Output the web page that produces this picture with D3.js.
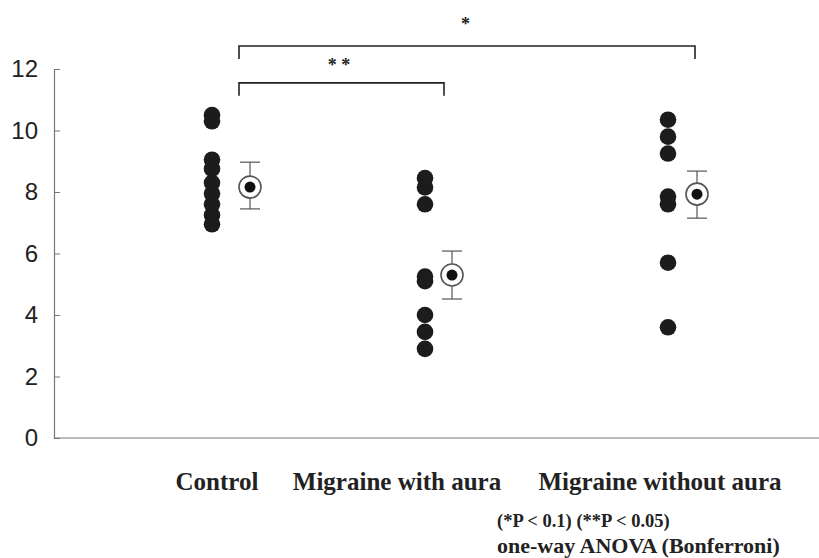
<!DOCTYPE html>
<html>
<head>
<meta charset="utf-8">
<script src="https://cdn.jsdelivr.net/npm/d3@7"></script>
<style>
  body { margin: 0; background: #fff; }
  svg { display: block; }
</style>
</head>
<body>
<script>
var groups = ["Control", "Migraine with aura", "Migraine without aura"];

var controlValues = [10.5, 10.3, 9.05, 8.75, 8.3, 7.95, 7.6, 7.25, 6.95];
var withAuraValues = [8.45, 8.15, 7.6, 5.25, 5.1, 4.0, 3.45, 2.9];
var withoutAuraValues = [10.35, 9.8, 9.25, 7.85, 7.6, 5.7, 3.6];

var means = [8.16, 5.3, 7.93];
var upper = [8.97, 6.08, 8.68];
var lower = [7.45, 4.52, 7.15];

var yTicks = [0, 2, 4, 6, 8, 10, 12];

var note1 = "(*P < 0.1) (**P < 0.05)";
var note2 = "one-way ANOVA (Bonferroni)";

var comparisons = [
  { from: "Control", to: "Migraine without aura", level: 12.75, label: "*" },
  { from: "Control", to: "Migraine with aura", level: 11.55, label: "* *" },
];

var valuesByGroup = [controlValues, withAuraValues, withoutAuraValues];

var width = 819,
  height = 558;

var chart = d3
  .select("body")
  .append("svg")
  .attr("width", width)
  .attr("height", height);

var y = d3.scaleLinear().domain([0, 12]).range([438, 69]);

// columns are not evenly spaced in the original
var dotX = d3.scaleOrdinal().domain(groups).range([212, 425, 668]);
var meanX = d3.scaleOrdinal().domain(groups).range([250, 452, 697]);
var labelX = d3.scaleOrdinal().domain(groups).range([217, 397, 660]);
var bracketEnd = d3.scaleOrdinal().domain(groups).range([239, 444, 695]);

var axisColor = "#777";

// y axis
var yAxis = d3
  .axisLeft(y)
  .tickValues(yTicks)
  .tickSizeInner(-6)
  .tickSizeOuter(0)
  .tickPadding(16);

var yG = chart
  .append("g")
  .attr("transform", "translate(54,0)")
  .call(yAxis);

yG.select(".domain").attr("stroke", axisColor).attr("stroke-width", 1.2);
yG.selectAll(".tick line").attr("stroke", axisColor);
yG.selectAll(".tick text")
  .attr("fill", "#222")
  .style("font-family", "'Liberation Sans', Arial, sans-serif")
  .style("font-size", "24px");

// x axis line (no ticks)
chart
  .append("line")
  .attr("x1", 54)
  .attr("x2", width)
  .attr("y1", y(0))
  .attr("y2", y(0))
  .attr("stroke", axisColor)
  .attr("stroke-width", 1.2);

// category labels
chart
  .selectAll(".cat")
  .data(groups)
  .enter()
  .append("text")
  .attr("class", "cat")
  .attr("x", function (d) {
    return labelX(d);
  })
  .attr("y", 490)
  .attr("text-anchor", "middle")
  .attr("fill", "#222")
  .style("font-family", "'Liberation Serif', 'Times New Roman', serif")
  .style("font-weight", "bold")
  .style("font-size", "25px")
  .text(function (d) {
    return d;
  });

// individual points
var points = [];
groups.forEach(function (g, i) {
  valuesByGroup[i].forEach(function (v) {
    points.push({ group: g, value: v });
  });
});

chart
  .selectAll(".pt")
  .data(points)
  .enter()
  .append("circle")
  .attr("class", "pt")
  .attr("cx", function (d) {
    return dotX(d.group);
  })
  .attr("cy", function (d) {
    return y(d.value);
  })
  .attr("r", 8.3)
  .attr("fill", "#1c1c1c");

// mean +- error
var stats = groups.map(function (g, i) {
  return { group: g, mean: means[i], hi: upper[i], lo: lower[i] };
});

var meanG = chart.selectAll(".mean").data(stats).enter().append("g");

meanG
  .append("line")
  .attr("x1", function (d) {
    return meanX(d.group);
  })
  .attr("x2", function (d) {
    return meanX(d.group);
  })
  .attr("y1", function (d) {
    return y(d.hi);
  })
  .attr("y2", function (d) {
    return y(d.lo);
  })
  .attr("stroke", "#555")
  .attr("stroke-width", 1.2);

["hi", "lo"].forEach(function (k) {
  meanG
    .append("line")
    .attr("x1", function (d) {
      return meanX(d.group) - 10;
    })
    .attr("x2", function (d) {
      return meanX(d.group) + 10;
    })
    .attr("y1", function (d) {
      return y(d[k]);
    })
    .attr("y2", function (d) {
      return y(d[k]);
    })
    .attr("stroke", "#555")
    .attr("stroke-width", 1.2);
});

meanG
  .append("circle")
  .attr("cx", function (d) {
    return meanX(d.group);
  })
  .attr("cy", function (d) {
    return y(d.mean);
  })
  .attr("r", 11)
  .attr("fill", "#fff")
  .attr("stroke", "#555")
  .attr("stroke-width", 1.6);

meanG
  .append("circle")
  .attr("cx", function (d) {
    return meanX(d.group);
  })
  .attr("cy", function (d) {
    return y(d.mean);
  })
  .attr("r", 5.5)
  .attr("fill", "#111");

// significance brackets
var br = chart.selectAll(".br").data(comparisons).enter().append("g");

br.append("path")
  .attr("d", function (d) {
    var x1 = bracketEnd(d.from),
      x2 = bracketEnd(d.to),
      yy = y(d.level);
    return (
      "M" + x1 + "," + (yy + 13) + "V" + yy + "H" + x2 + "V" + (yy + 13)
    );
  })
  .attr("fill", "none")
  .attr("stroke", "#222")
  .attr("stroke-width", 1.6);

br.append("text")
  .attr("x", function (d) {
    if (d.label == "*") return (meanX(d.from) + meanX(d.to)) / 2 - 8;
    return (meanX(d.from) + meanX(d.to)) / 2 - 12;
  })
  .attr("y", function (d) {
    if (d.label == "*") return y(d.level) - 16;
    return y(d.level) - 12;
  })
  .attr("text-anchor", "middle")
  .attr("fill", "#222")
  .style("font-family", "'Liberation Serif', serif")
  .style("font-weight", "bold")
  .style("font-size", "18px")
  .text(function (d) {
    return d.label;
  });

// notes
chart
  .append("text")
  .attr("x", 497)
  .attr("y", 527)
  .attr("fill", "#222")
  .style("font-family", "'Liberation Serif', serif")
  .style("font-weight", "bold")
  .style("font-size", "18.5px")
  .text(note1);

chart
  .append("text")
  .attr("x", 497)
  .attr("y", 553)
  .attr("fill", "#222")
  .style("font-family", "'Liberation Serif', serif")
  .style("font-weight", "bold")
  .style("font-size", "22px")
  .text(note2);
</script>
</body>
</html>
